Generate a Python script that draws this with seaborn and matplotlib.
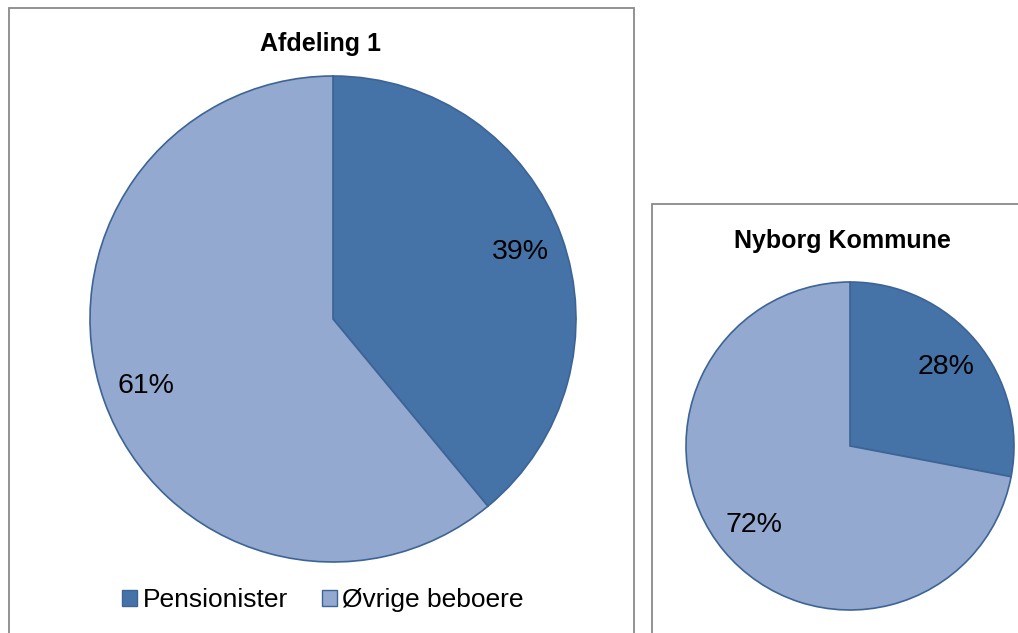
import matplotlib.pyplot as plt
import seaborn as sns
from matplotlib.patches import Patch, Rectangle

sns.set_theme(style="white")
plt.rcParams['font.family'] = ['Liberation Sans', 'DejaVu Sans']
plt.rcParams['text.color'] = 'black'

# data
categories = ['Pensionister', 'Øvrige beboere']
afdeling_values = [39, 61]
kommune_values = [28, 72]
titles = ['Afdeling 1', 'Nyborg Kommune']

colors = ['#4572A7', '#93A9CF']
edge = '#3C6496'

W, H = 1018, 633
fig = plt.figure(figsize=(W / 100, H / 100), dpi=100)


def px_axes(cx, cy, r):
    # pie axes placed by pixel centre / radius (top-left origin)
    return fig.add_axes([(cx - r) / W, (H - cy - r) / H, 2 * r / W, 2 * r / H])


def draw_pie(ax, values, pctd):
    wedges, texts, autos = ax.pie(
        values, colors=colors, startangle=90, counterclock=False,
        autopct=lambda p: f'{p:.0f}%', pctdistance=pctd,
        wedgeprops=dict(edgecolor=edge, linewidth=1.2),
        textprops=dict(fontsize=20.5, color='black'))
    for w in wedges:
        w.set_clip_on(False)
    ax.set_xlim(-1, 1)
    ax.set_ylim(-1, 1)
    ax.axis('off')


# chart frames
for x0, y0, x1, y1 in [(9, 8, 634, 660), (652, 204, 1040, 660)]:
    fig.add_artist(Rectangle((x0 / W, 1 - y1 / H), (x1 - x0) / W, (y1 - y0) / H,
                             transform=fig.transFigure, fill=False,
                             ec='#8a8a8a', lw=1.3))

ax1 = px_axes(333, 319, 243)
draw_pie(ax1, afdeling_values, 0.82)
ax2 = px_axes(850, 446, 164)
draw_pie(ax2, kommune_values, 0.76)

fig.text(320 / W, 1 - 44 / H, titles[0], ha='center', va='center',
         fontsize=18, weight='bold', color='black')
fig.text(842 / W, 1 - 241 / H, titles[1], ha='center', va='center',
         fontsize=18, weight='bold', color='black')

handles = [Patch(facecolor=c, edgecolor=edge, label=l) for c, l in zip(colors, categories)]
leg = fig.legend(handles=handles, loc='center', bbox_to_anchor=(323 / W, 1 - 600 / H),
                 ncol=2, frameon=False, fontsize=19, handlelength=0.57,
                 handleheight=0.57, handletextpad=0.2, columnspacing=1.3)
for t in leg.get_texts():
    t.set_color('black')

fig.savefig('out.png', dpi=100)
